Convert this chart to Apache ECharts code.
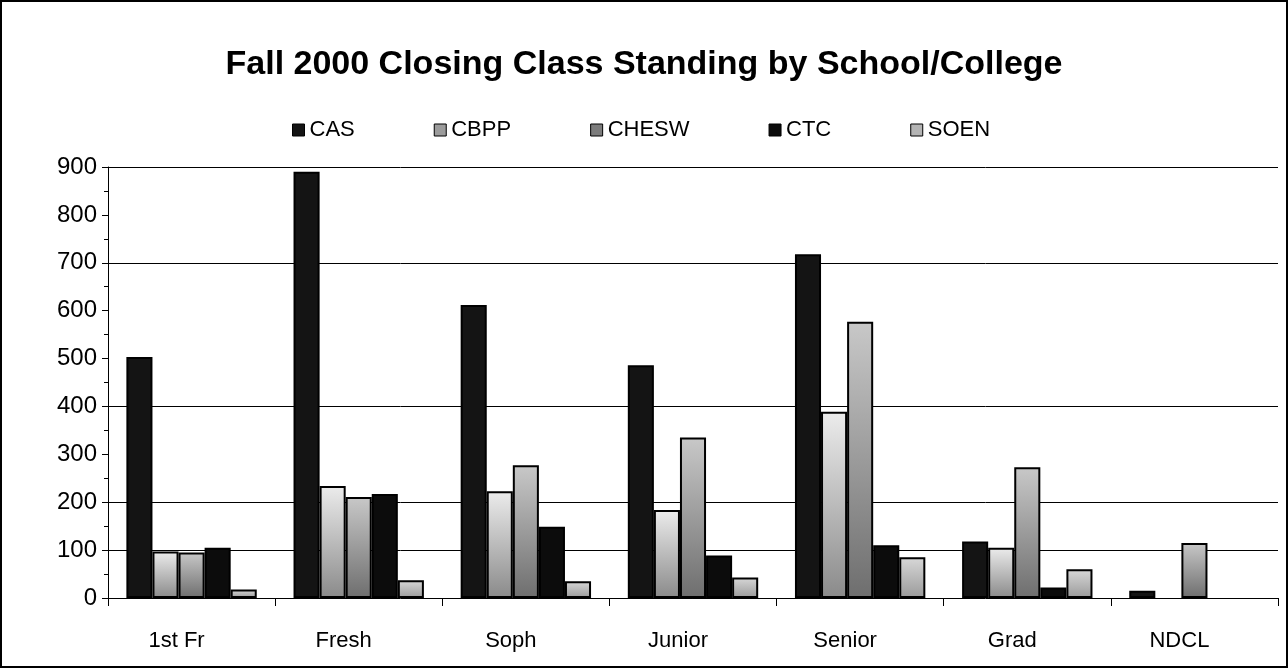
<!DOCTYPE html>
<html>
<head>
<meta charset="utf-8">
<script src="https://cdn.jsdelivr.net/npm/echarts@6/dist/echarts.min.js"></script>
<style>
  html, body { margin: 0; padding: 0; background: #fff; }
  #chart { width: 1288px; height: 668px; box-sizing: border-box; border: 2px solid #000; }
</style>
</head>
<body>
<div id="chart"></div>
<script>
// 数据：估计值
const categories = ['1st Fr', 'Fresh', 'Soph', 'Junior', 'Senior', 'Grad', 'NDCL']
const seriesNames = ['CAS', 'CBPP', 'CHESW', 'CTC', 'SOEN']
const cas = [503, 890, 612, 486, 718, 118, 15]
const cbpp = [97, 234, 223, 184, 389, 105, 0]
const chesw = [95, 211, 277, 335, 577, 273, 115]
const ctc = [105, 217, 149, 89, 110, 22, 0]
const soen = [18, 37, 35, 43, 85, 60, 0]
const yTicks = [0, 100, 200, 300, 400, 500, 600, 700, 800, 900]

const values = [cas, cbpp, chesw, ctc, soen]

// 灰度填充，模拟扫描件的网点效果
const fills = [
  '#141414',
  new echarts.graphic.LinearGradient(0, 0, 0, 1, [
    { offset: 0, color: '#ececec' }, { offset: 1, color: '#8a8a8a' }
  ]),
  new echarts.graphic.LinearGradient(0, 0, 0, 1, [
    { offset: 0, color: '#c8c8c8' }, { offset: 1, color: '#6e6e6e' }
  ]),
  '#0c0c0c',
  new echarts.graphic.LinearGradient(0, 0, 0, 1, [
    { offset: 0, color: '#d8d8d8' }, { offset: 1, color: '#9a9a9a' }
  ])
]
const legendFills = ['#141414', '#9c9c9c', '#7c7c7c', '#0c0c0c', '#b4b4b4']

// 扫描图中可见的网格线（0 处为轴线）
const gridColors = yTicks.map(v => [100, 200, 400, 700, 900].includes(v) ? '#000' : 'transparent')

const chart = echarts.init(document.getElementById('chart'))

chart.setOption({
  animation: false,
  textStyle: { fontFamily: 'Liberation Sans, Arial, sans-serif', color: '#000' },
  title: {
    text: 'Fall 2000 Closing Class Standing by School/College',
    left: 'center',
    top: 41,
    textStyle: { fontSize: 34, fontWeight: 'bold', color: '#000', fontFamily: 'Liberation Sans, Arial, sans-serif' }
  },
  legend: {
    left: 285,
    top: 112,
    itemWidth: 12,
    itemHeight: 12,
    itemGap: 79,
    icon: 'rect',
    textStyle: { fontSize: 22, color: '#000' },
    data: seriesNames.map((n, i) => ({ name: n, itemStyle: { color: legendFills[i], borderColor: '#000', borderWidth: 1 } }))
  },
  grid: { left: 106, right: 8, top: 165, bottom: 68, containLabel: false },
  xAxis: {
    type: 'category',
    data: categories,
    axisLine: { lineStyle: { color: '#000', width: 1 } },
    axisTick: { show: true, length: 8, lineStyle: { color: '#000' } },
    axisLabel: { fontSize: 22, color: '#000', margin: 32, padding: [0, 30, 0, 0] }
  },
  yAxis: {
    type: 'value',
    min: 0,
    max: 900,
    interval: 100,
    axisLine: { show: true, lineStyle: { color: '#000', width: 1 } },
    axisTick: { show: true, length: 6, lineStyle: { color: '#000' } },
    minorTick: { show: true, splitNumber: 2, length: 4, lineStyle: { color: '#000' } },
    axisLabel: { fontSize: 24, color: '#000', margin: 11 },
    splitLine: { show: true, lineStyle: { color: gridColors, width: 1 } }
  },
  series: seriesNames.map((name, i) => ({
    name,
    type: 'bar',
    // 零值不画柱（避免出现边框线）
    data: values[i].map(v => (v === 0 ? null : v)),
    barGap: '0%',
    barCategoryGap: '22%',
    itemStyle: { color: fills[i], borderColor: '#000', borderWidth: 2 }
  }))
})
</script>
</body>
</html>
